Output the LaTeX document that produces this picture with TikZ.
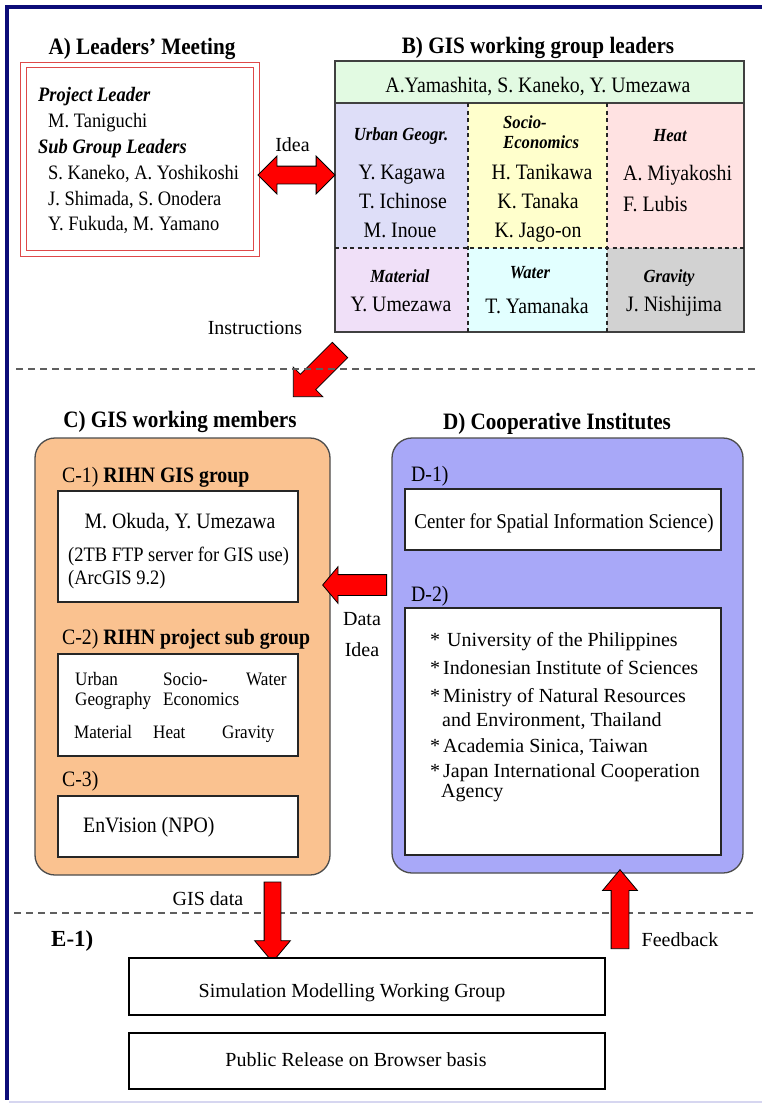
\documentclass[tikz,border=0pt]{standalone}
\usepackage{fontspec}
\setmainfont{Liberation Serif}[FakeStretch=0.9]
\newfontfamily\plainrm{Liberation Serif}
\usepackage{xcolor}
\usetikzlibrary{
  positioning,
  calc,
  shapes.arrows
}

\definecolor{navyframe}{RGB}{12,12,120}
\definecolor{lowline}{RGB}{214,214,240}
\definecolor{aframe}{RGB}{222,72,72}
\definecolor{cellgreen}{RGB}{226,250,226}
\definecolor{cellurban}{RGB}{222,222,248}
\definecolor{cellsocio}{RGB}{255,255,204}
\definecolor{cellheat}{RGB}{255,226,226}
\definecolor{cellmat}{RGB}{240,224,248}
\definecolor{cellwater}{RGB}{226,255,255}
\definecolor{cellgrav}{RGB}{210,210,210}
\definecolor{corange}{RGB}{250,194,144}
\definecolor{dviolet}{RGB}{168,168,248}
\definecolor{sepgray}{RGB}{95,95,95}

\newcommand{\setfs}[1]{\fontsize{#1}{#1}\selectfont}

\tikzset{
  ttl/.style={anchor=base, inner sep=0pt, font=\bfseries\setfs{23.5}},
  lbl/.style={anchor=base west, inner sep=0pt, font=\setfs{22}},
  nm/.style={anchor=base, inner sep=0pt, font=\setfs{22}},
  cat/.style={anchor=base, inner sep=0pt, font=\bfseries\itshape\setfs{18.5}},
  plain/.style={anchor=base, inner sep=0pt, font=\plainrm\setfs{20}},
  wbox/.style={draw=black!85, fill=white, line width=1.4pt, inner sep=0pt},
  ebox/.style={draw=black, fill=white, line width=2.4pt, inner sep=0pt},
  grp/.style={draw=black!70, line width=1.3pt, rounded corners=20pt, inner sep=0pt},
  redarrow/.style={draw=black, fill=red, line width=0.8pt, inner xsep=0pt, minimum width=0pt},
  sepline/.style={sepgray, line width=1.5pt, dash pattern=on 7pt off 5pt},
  celldash/.style={black!85, line width=1.2pt, dash pattern=on 4pt off 3.5pt}
}

\begin{document}
\begin{tikzpicture}[x=1pt, y=-1pt]
      \useasboundingbox (0,0) rectangle (762,1104);
      \fill[white] (0,0) rectangle (762,1104);

      % Frame
      \fill[navyframe] (5,5) rectangle (762,9);
      \fill[navyframe] (5,5) rectangle (9,1100);
      \fill[lowline] (9,1100.5) rectangle (762,1103);

      % A) Leaders' Meeting
      \node[ttl] (atitle) at (142,54) {A) Leaders' Meeting};
      \node[draw=aframe, double=white, double distance=4.5pt, line width=1.2pt,
            minimum width=233pt, minimum height=188.5pt] (abox) at (140,159.25) {};
      \node[anchor=base west, inner sep=0pt, font=\bfseries\itshape\setfs{20.5}] (plead) at (38,101.5) {Project Leader};
      \node[anchor=base west, inner sep=0pt, font=\setfs{20.5}] (ptan) at (48,127.5) {M. Taniguchi};
      \node[anchor=base west, inner sep=0pt, font=\bfseries\itshape\setfs{20.5}] (sglead) at (38,153) {Sub Group Leaders};
      \foreach \n/\yy/\t in {1/179/{S. Kaneko, A. Yoshikoshi}, 2/205/{J. Shimada, S. Onodera}, 3/230.5/{Y. Fukuda, M. Yamano}}
        \node[anchor=base west, inner sep=0pt, font=\setfs{20.5}] (sg\n) at (48,\yy) {\t};

      % B) GIS working group leaders
      \node[ttl] (btitle) at (538,53.5) {B) GIS working group leaders};
      \fill[cellgreen] (335,61) rectangle (744,103);
      \fill[cellurban] (335,103) rectangle (468,248);
      \fill[cellsocio] (468,103) rectangle (607,248);
      \fill[cellheat] (607,103) rectangle (744,248);
      \fill[cellmat] (335,248) rectangle (468,332);
      \fill[cellwater] (468,248) rectangle (607,332);
      \fill[cellgrav] (607,248) rectangle (744,332);
      \node[draw=black!75, line width=1.3pt, inner sep=0pt,
            minimum width=409pt, minimum height=271pt] (btab) at (539.5,196.5) {};
      \draw[black!75, line width=1.3pt] (335,103) -- (744,103);
      \draw[celldash] (468,103) -- (468,332);
      \draw[celldash] (607,103) -- (607,332);
      \draw[celldash] (335,248) -- (744,248);
      \node[nm] (bhead) at (538,92.5) {A.Yamashita, S. Kaneko, Y. Umezawa};
      % upper row
      \node[cat] (urban) at (401,140) {Urban Geogr.};
      \node[nm] (kagawa) at (402,179.5) {Y. Kagawa};
      \node[nm] (ichinose) at (403,208.5) {T. Ichinose};
      \node[nm] (inoue) at (400,237) {M. Inoue};
      \node[cat, anchor=base west] (socio) at (503,128) {Socio-};
      \node[cat, anchor=base west] (econ) at (503,148) {Economics};
      \node[nm] (tanikawa) at (542,179.5) {H. Tanikawa};
      \node[nm] (tanaka) at (538,208.5) {K. Tanaka};
      \node[nm] (jagoon) at (538,237) {K. Jago-on};
      \node[cat] (heat) at (670,141.5) {Heat};
      \node[nm, anchor=base west] (miyakoshi) at (623,180) {A. Miyakoshi};
      \node[nm, anchor=base west] (lubis) at (623,211.5) {F. Lubis};
      % lower row
      \node[cat] (material) at (400,282.5) {Material};
      \node[nm] (umezawa) at (401,311.5) {Y. Umezawa};
      \node[cat] (water) at (530,278.5) {Water};
      \node[nm] (yamanaka) at (537,313) {T. Yamanaka};
      \node[cat] (gravity) at (669,282) {Gravity};
      \node[nm] (nishijima) at (674,311.5) {J. Nishijima};

      % Idea (A <-> B)
      \node[plain] (idea1) at (292.5,151.5) {Idea};
      \node[double arrow, redarrow, inner ysep=8.5pt, double arrow head extend=10pt,
            double arrow tip angle=90, minimum height=77pt] (ideaarr) at (296.5,175) {};

      % Instructions (B -> C)
      \node[plain] (instr) at (255,334) {Instructions};
      \node[single arrow, redarrow, inner ysep=10.5pt, single arrow head extend=10pt,
            single arrow tip angle=90, minimum height=66pt, rotate=-135] (instrarr) at (320.5,369.5) {};

      \draw[sepline] (16,369) -- (755,369);

      % C) GIS working members
      \node[ttl] (ctitle) at (180,427) {C) GIS working members};
      \node[grp, fill=corange, minimum width=295pt, minimum height=437pt] (cgrp) at (182.5,656.5) {};
      \node[lbl] (c1lbl) at (62,482.5) {C-1) \textbf{RIHN GIS group}};
      \node[wbox, minimum width=240pt, minimum height=111pt] (c1box) at (178,546.5) {};
      \node[nm] (okuda) at (180,528.5) {M. Okuda, Y. Umezawa};
      \node[anchor=base west, inner sep=0pt, font=\setfs{20.5}] (ftp) at (68,561.5) {(2TB FTP server for GIS use)};
      \node[anchor=base west, inner sep=0pt, font=\setfs{20.5}] (arcgis) at (68,584.5) {(ArcGIS 9.2)};

      \node[lbl] (c2lbl) at (62,644) {C-2) \textbf{RIHN project sub group}};
      \node[wbox, minimum width=240pt, minimum height=102pt] (c2box) at (178,705) {};
      \foreach \n/\xx/\yy/\t in {a/75/685/Urban, b/75/705/Geography, c/163/685/Socio-, d/163/705/Economics,
                                 e/246/685/Water, f/74/738.5/Material, g/153/738.5/Heat, h/222/738.5/Gravity}
        \node[anchor=base west, inner sep=0pt, font=\setfs{19}] (sub\n) at (\xx,\yy) {\t};

      \node[lbl] (c3lbl) at (62,786.5) {C-3)};
      \node[wbox, minimum width=240pt, minimum height=61pt] (c3box) at (178,826.5) {};
      \node[nm, anchor=base west] (envision) at (83,832) {EnVision (NPO)};

      % D) Cooperative Institutes
      \node[ttl] (dtitle) at (557,429) {D) Cooperative Institutes};
      \node[grp, fill=dviolet, minimum width=351pt, minimum height=435pt] (dgrp) at (567.5,655.5) {};
      \node[lbl] (d1lbl) at (411,481.5) {D-1)};
      \node[wbox, minimum width=316pt, minimum height=61pt] (d1box) at (563,519.5) {};
      \node[anchor=base, inner sep=0pt, font=\setfs{21}] (csis) at (564,528.5) {Center for Spatial Information Science)};
      \node[lbl] (d2lbl) at (411,601.5) {D-2)};
      \node[wbox, minimum width=316pt, minimum height=247pt] (d2box) at (563,731.5) {};
      \node[plain, anchor=base west] (inst1) at (430,646) {*\hspace{7pt}University of the Philippines};
      \foreach \n/\yy/\t in {2/674.5/{Indonesian Institute of Sciences}, 3/702/{Ministry of Natural Resources},
                             5/752/{Academia Sinica, Taiwan}, 6/777/{Japan International Cooperation}}
        \node[plain, anchor=base west] (inst\n) at (430,\yy) {*\hspace{3pt}\t};
      \node[plain, anchor=base west] (inst4) at (442,726) {and Environment, Thailand};
      \node[plain, anchor=base west] (inst7) at (441,797) {Agency};

      % Data / Idea (D -> C)
      \node[single arrow, redarrow, inner ysep=10pt, single arrow head extend=8pt,
            single arrow tip angle=100, minimum height=64pt, rotate=180] (dataarr) at (359,585) {};
      \node[plain] (data) at (362,625) {Data};
      \node[plain] (idea2) at (362,656.5) {Idea};

      \draw[sepline] (14,913) -- (755,913);

      % E-1)
      \node[plain] (gisdata) at (208,905) {GIS data};
      \node[single arrow, redarrow, inner ysep=8pt, single arrow head extend=9.5pt,
            single arrow tip angle=80, minimum height=80pt, rotate=-90] (gisarr) at (272.5,917) {};
      \node[single arrow, redarrow, inner ysep=8.5pt, single arrow head extend=8.5pt,
            single arrow tip angle=80, minimum height=79pt, rotate=90] (feedarr) at (620,914.5) {};
      \node[plain] (feedback) at (680,946) {Feedback};
      \node[plain, anchor=base west, font=\plainrm\bfseries\setfs{23}] (e1lbl) at (51,946) {E-1)};

      \node[ebox, minimum width=476pt, minimum height=57pt] (simbox) at (367,986.5) {};
      \node[plain] (simtxt) at (352,997) {Simulation Modelling Working Group};
      \node[ebox, minimum width=476pt, minimum height=56pt] (pubbox) at (367,1061) {};
      \node[plain] (pubtxt) at (356,1066.5) {Public Release on Browser basis};
\end{tikzpicture}
\end{document}
